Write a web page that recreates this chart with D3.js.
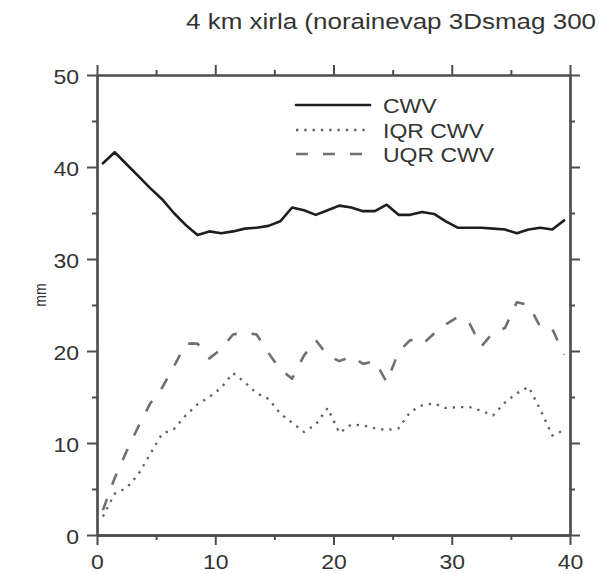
<!DOCTYPE html>
<html>
<head>
<meta charset="utf-8">
<script src="https://cdn.jsdelivr.net/npm/d3@7"></script>
<style>
  html, body { margin: 0; padding: 0; background: #fff; }
  svg { display: block; }
</style>
</head>
<body>
<script>
// Bin centres along the x axis
const binCentres = [0.5, 1.5, 2.5, 3.5, 4.5, 5.5, 6.5, 7.5, 8.5, 9.5,
  10.5, 11.5, 12.5, 13.5, 14.5, 15.5, 16.5, 17.5, 18.5, 19.5,
  20.5, 21.5, 22.5, 23.5, 24.5, 25.5, 26.5, 27.5, 28.5, 29.5,
  30.5, 31.5, 32.5, 33.5, 34.5, 35.5, 36.5, 37.5, 38.5, 39.5];

// Column water vapour (mm)
const cwv = [40.4, 41.6, 40.3, 39.0, 37.7, 36.5, 35.0, 33.7, 32.6, 33.0,
  32.8, 33.0, 33.3, 33.4, 33.6, 34.1, 35.6, 35.3, 34.8, 35.3,
  35.8, 35.6, 35.2, 35.2, 35.9, 34.8, 34.8, 35.1, 34.9, 34.1,
  33.4, 33.4, 33.4, 33.3, 33.2, 32.8, 33.2, 33.4, 33.2, 34.2];

// Interquartile range of CWV (mm)
const iqrCwv = [2.0, 4.5, 5.1, 6.6, 8.8, 11.0, 11.5, 13.0, 14.2, 15.0,
  16.0, 17.6, 16.6, 15.4, 14.8, 13.2, 12.2, 11.2, 12.0, 13.8,
  11.1, 12.0, 11.9, 11.6, 11.4, 11.6, 13.4, 14.1, 14.3, 13.8,
  13.9, 13.9, 13.5, 13.0, 14.4, 15.4, 16.1, 13.6, 10.8, 11.4];

// Upper quartile range of CWV (mm)
const uqrCwv = [2.7, 6.2, 9.1, 11.8, 14.3, 16.0, 18.3, 20.8, 20.8, 19.2,
  20.2, 21.8, 22.0, 21.8, 19.8, 18.0, 17.0, 19.5, 21.2, 19.5,
  18.9, 19.4, 18.6, 18.9, 16.6, 19.9, 21.2, 20.7, 21.9, 22.9,
  23.7, 23.0, 20.5, 22.0, 22.5, 25.3, 25.0, 22.6, 22.4, 19.6];

const xMajorTicks = [0, 10, 20, 30, 40];
const xMinorTicks = [5, 15, 25, 35];
const yMajorTicks = [0, 10, 20, 30, 40, 50];
const yMinorTicks = [5, 15, 25, 35, 45];

const seriesNames = ["CWV", "IQR CWV", "UQR CWV"];
const titleText = "4 km xirla (norainevap 3Dsmag 300";
const yTitle = "mm";

const W = 599, H = 574;
const plotLeft = 97, plotRight = 570, plotTop = 75, plotBottom = 535;
const stretch = 1.15;       // text is drawn slightly wide
const axisColor = "#4d4d4d";
const textColor = "#333";
const font = "'Liberation Sans', Arial, Helvetica, sans-serif";

const svg = d3.select("body").append("svg")
  .attr("width", W).attr("height", H);

const x = d3.scaleLinear().domain([0, 40]).range([plotLeft, plotRight]);
const y = d3.scaleLinear().domain([0, 50]).range([plotBottom, plotTop]);

function styleAxis(g, width) {
  g.select(".domain").attr("stroke", axisColor).attr("stroke-width", width);
  g.selectAll(".tick line").attr("stroke", axisColor).attr("stroke-width", 2);
}

// bottom axis: major ticks with labels, then minor ticks
const gb = svg.append("g").attr("transform", `translate(0,${plotBottom})`)
  .call(d3.axisBottom(x).tickValues(xMajorTicks).tickSize(10).tickSizeOuter(0).tickFormat(d3.format("d")));
styleAxis(gb, 2.5);
gb.selectAll(".tick text")
  .attr("y", 0).attr("dy", 0)
  .attr("transform", `translate(0,34) scale(${stretch},1)`)
  .attr("font-family", font).attr("font-size", 20).attr("fill", textColor);
const gbm = svg.append("g").attr("transform", `translate(0,${plotBottom})`)
  .call(d3.axisBottom(x).tickValues(xMinorTicks).tickSize(5).tickSizeOuter(0).tickFormat(""));
styleAxis(gbm, 2.5);

// top axis
const gt = svg.append("g").attr("transform", `translate(0,${plotTop})`)
  .call(d3.axisTop(x).tickValues(xMajorTicks).tickSize(10).tickSizeOuter(0).tickFormat(""));
styleAxis(gt, 2);
const gtm = svg.append("g").attr("transform", `translate(0,${plotTop})`)
  .call(d3.axisTop(x).tickValues(xMinorTicks).tickSize(5).tickSizeOuter(0).tickFormat(""));
styleAxis(gtm, 2);

// left axis
const gl = svg.append("g").attr("transform", `translate(${plotLeft},0)`)
  .call(d3.axisLeft(y).tickValues(yMajorTicks).tickSize(10).tickSizeOuter(0).tickFormat(d3.format("d")));
styleAxis(gl, 2.2);
gl.selectAll(".tick text")
  .attr("x", 0).attr("dy", 0)
  .attr("transform", `translate(-18,8) scale(${stretch},1)`)
  .attr("font-family", font).attr("font-size", 20).attr("fill", textColor);
const glm = svg.append("g").attr("transform", `translate(${plotLeft},0)`)
  .call(d3.axisLeft(y).tickValues(yMinorTicks).tickSize(5).tickSizeOuter(0).tickFormat(""));
styleAxis(glm, 2.2);

// right axis
const gr = svg.append("g").attr("transform", `translate(${plotRight},0)`)
  .call(d3.axisRight(y).tickValues(yMajorTicks).tickSize(10).tickSizeOuter(0).tickFormat(""));
styleAxis(gr, 2.2);
const grm = svg.append("g").attr("transform", `translate(${plotRight},0)`)
  .call(d3.axisRight(y).tickValues(yMinorTicks).tickSize(5).tickSizeOuter(0).tickFormat(""));
styleAxis(grm, 2.2);

// data lines
const styles = [
  { values: cwv, stroke: "#1e1e1e", width: 2.6, dash: null, cap: "round" },
  { values: iqrCwv, stroke: "#5e5e5e", width: 2.3, dash: "2.3,6", cap: "butt" },
  { values: uqrCwv, stroke: "#707070", width: 2.6, dash: "12,15", cap: "butt" }
];

const line = d3.line().x(d => x(d[0])).y(d => y(d[1]));

styles.forEach(s => {
  svg.append("path")
    .datum(binCentres.map((c, i) => [c, s.values[i]]))
    .attr("d", line)
    .attr("fill", "none")
    .attr("stroke", s.stroke)
    .attr("stroke-width", s.width)
    .attr("stroke-linejoin", "round")
    .attr("stroke-linecap", s.cap)
    .attr("stroke-dasharray", s.dash);
});

// legend
const legendRows = [105, 130, 154];
const lg = svg.append("g");
styles.forEach((s, i) => {
  lg.append("line")
    .attr("x1", 296).attr("x2", 370)
    .attr("y1", legendRows[i]).attr("y2", legendRows[i])
    .attr("stroke", s.stroke)
    .attr("stroke-width", s.width)
    .attr("stroke-linecap", s.cap)
    .attr("stroke-dasharray", s.dash);
  lg.append("text")
    .attr("transform", `translate(383,${legendRows[i] + 8}) scale(${stretch},1)`)
    .attr("font-family", font).attr("font-size", 20).attr("fill", textColor)
    .text(seriesNames[i]);
});

// title (runs off the right edge)
svg.append("text")
  .attr("transform", `translate(186,29) scale(1.22,1)`)
  .attr("font-family", font).attr("font-size", 21.3).attr("fill", textColor)
  .text(titleText);

// y axis title
svg.append("text")
  .attr("transform", `translate(46,295) rotate(-90) scale(1,${stretch})`)
  .attr("text-anchor", "middle")
  .attr("font-family", font).attr("font-size", 14).attr("fill", textColor)
  .text(yTitle);
</script>
</body>
</html>
